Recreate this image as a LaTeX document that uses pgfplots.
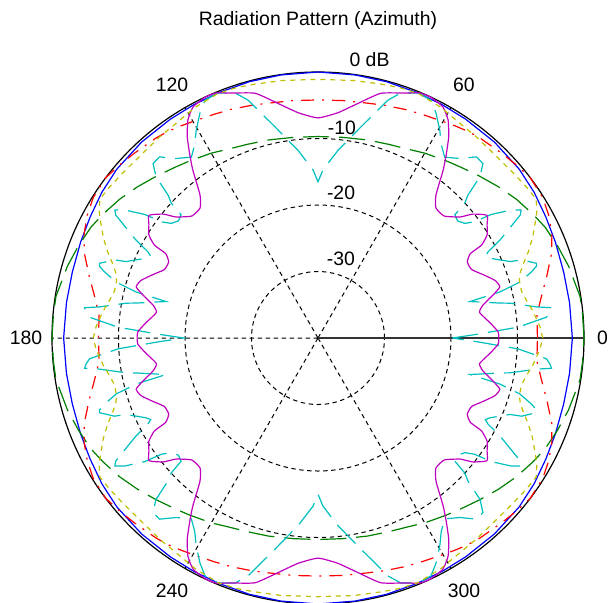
\documentclass[border=0pt]{standalone}
\usepackage{pgfplots}
\usepackage{pgfplotstable}
\pgfplotsset{compat=1.18}
\usepgfplotslibrary{polar}
\usepackage{fontspec}
\setmainfont{Liberation Sans}

\definecolor{mblue}{rgb}{0,0,1}
\definecolor{mgreen}{rgb}{0,0.5,0}
\definecolor{mred}{rgb}{1,0,0}
\definecolor{mcyan}{rgb}{0,0.75,0.75}
\definecolor{mmag}{rgb}{0.75,0,0.75}
\definecolor{myel}{rgb}{0.75,0.75,0}

% azimuth (deg)  gain (dB)
\pgfplotstableread{
a d
0 -1.75
8 -1.8
15 -1.75
22 -1.5
28 -1.2
34 -0.8
40 -0.5
48 -0.35
56 -0.3
62 -0.25
68 -0.2
75 -0.1
82 -0.05
90 0
98 -0.05
105 -0.1
112 -0.2
118 -0.25
124 -0.3
132 -0.35
140 -0.5
146 -0.8
152 -1.2
158 -1.5
165 -1.75
172 -1.8
180 -1.75
188 -1.8
195 -1.75
202 -1.5
208 -1.2
214 -0.8
220 -0.5
228 -0.35
236 -0.3
242 -0.25
248 -0.2
255 -0.1
262 -0.05
270 0
278 -0.05
285 -0.1
292 -0.2
298 -0.25
304 -0.3
312 -0.35
320 -0.5
326 -0.8
332 -1.2
338 -1.5
345 -1.75
352 -1.8
360 -1.75
}\tblue

\pgfplotstableread{
a d
0 0
5 -0.05
9 -0.1
16 -0.8
21 -1.4
26 -2.0
30 -2.7
35 -3.6
40 -4.6
45 -5.6
50 -6.5
54 -7.1
60 -7.9
65 -8.6
70 -9.0
76 -9.3
83 -9.6
90 -9.7
97 -9.6
104 -9.3
110 -9.0
115 -8.6
120 -7.9
126 -7.1
130 -6.5
135 -5.6
140 -4.6
145 -3.6
150 -2.7
154 -2.0
159 -1.4
164 -0.8
171 -0.1
175 -0.05
180 0
185 -0.05
189 -0.1
196 -0.8
201 -1.4
206 -2.0
210 -2.7
215 -3.6
220 -4.6
225 -5.6
230 -6.5
234 -7.1
240 -7.9
245 -8.6
250 -9.0
256 -9.3
263 -9.6
270 -9.7
277 -9.6
284 -9.3
290 -9.0
295 -8.6
300 -7.9
306 -7.1
310 -6.5
315 -5.6
320 -4.6
325 -3.6
330 -2.7
334 -2.0
339 -1.4
344 -0.8
351 -0.1
355 -0.05
360 0
}\tgreen

\pgfplotstableread{
a d
0 -7.0
6 -6.9
11 -5.7
15 -4.4
20 -2.6
24 -1.5
28 -0.7
32 -0.15
37 0
41 -0.4
45 -0.8
51 -1.3
54 -1.6
57 -2.0
60 -2.4
65 -2.9
69 -3.2
74 -3.6
78 -3.9
84 -4.1
90 -4.2
96 -4.1
102 -3.9
106 -3.6
111 -3.2
115 -2.9
120 -2.4
123 -2.0
126 -1.6
129 -1.3
135 -0.8
139 -0.4
143 0
148 -0.15
152 -0.7
156 -1.5
160 -2.6
165 -4.4
169 -5.7
174 -6.9
180 -7.0
186 -6.9
191 -5.7
195 -4.4
200 -2.6
204 -1.5
208 -0.7
212 -0.15
217 0
221 -0.4
225 -0.8
231 -1.3
234 -1.6
237 -2.0
240 -2.4
245 -2.9
249 -3.2
254 -3.6
258 -3.9
264 -4.1
270 -4.2
276 -4.1
282 -3.9
286 -3.6
291 -3.2
295 -2.9
300 -2.4
303 -2.0
306 -1.6
309 -1.3
315 -0.8
319 -0.4
323 0
328 -0.15
332 -0.7
336 -1.5
340 -2.6
345 -4.4
349 -5.7
354 -6.9
360 -7.0
}\tred

\pgfplotstableread{
a d
0 -6.2
3 -6.6
7 -7.4
10 -8.1
13 -8.6
16 -8.5
18 -8.0
20 -7.1
22.3 -5.8
25 -4.4
28 -3.0
30 -2.0
32.5 -1.1
36 -1.3
40 -1.55
47 -1.7
52 -1.5
56.5 -1.3
62 -0.7
67.8 -0.25
72 -0.4
76 -0.66
82 -0.9
90 -1.1
98 -0.9
104 -0.66
108 -0.4
112.2 -0.25
118 -0.7
123.5 -1.3
128 -1.5
133 -1.7
140 -1.55
144 -1.3
147.5 -1.1
150 -2.0
152 -3.0
155 -4.4
157.7 -5.8
160 -7.1
162 -8.0
164 -8.5
167 -8.6
170 -8.1
173 -7.4
177 -6.6
180 -6.2
183 -6.6
187 -7.4
190 -8.1
193 -8.6
196 -8.5
198 -8.0
200 -7.1
202.3 -5.8
205 -4.4
208 -3.0
210 -2.0
212.5 -1.1
216 -1.3
220 -1.55
227 -1.7
232 -1.5
236.5 -1.3
242 -0.7
247.8 -0.25
252 -0.4
256 -0.66
262 -0.9
270 -1.1
278 -0.9
284 -0.66
288 -0.4
292.2 -0.25
298 -0.7
303.5 -1.3
308 -1.5
313 -1.7
320 -1.55
324 -1.3
327.5 -1.1
330 -2.0
332 -3.0
335 -4.4
337.7 -5.8
340 -7.1
342 -8.0
344 -8.5
347 -8.6
350 -8.1
353 -7.4
357 -6.6
360 -6.2
}\tyel

\pgfplotstableread{
a d
0 -12.8
2 -12.9
5 -14.0
9 -15.4
11.3 -14.7
13.8 -12.9
15.7 -11.6
18 -12.0
21 -13.4
24 -14.7
27 -14.8
29 -13.8
29.6 -11.7
31.4 -10.2
33.8 -9.4
36 -8.6
38.7 -10.2
40.4 -11.9
44 -13.6
47.8 -13.6
50.5 -12.1
53.3 -8.5
55 -6.4
57 -3.9
59.2 -1.8
61.6 -0.5
65 0
67.5 -0.1
70.4 -0.9
75.6 -2.0
80.3 -4.2
85 -6.0
90 -6.9
95 -6.0
99.7 -4.2
104.4 -2.0
109.6 -0.9
112.5 -0.1
115 0
118.4 -0.5
120.8 -1.8
123 -3.9
125 -6.4
126.7 -8.5
129.5 -12.1
132.2 -13.6
136 -13.6
139.6 -11.9
141.3 -10.2
144 -8.6
146.2 -9.4
148.6 -10.2
150.4 -11.7
151 -13.8
153 -14.8
156 -14.7
159 -13.4
162 -12.0
164.3 -11.6
166.2 -12.9
168.7 -14.7
171 -15.4
175 -14.0
178 -12.9
180 -12.8
182 -12.9
185 -14.0
189 -15.4
191.3 -14.7
193.8 -12.9
195.7 -11.6
198 -12.0
201 -13.4
204 -14.7
207 -14.8
209 -13.8
209.6 -11.7
211.4 -10.2
213.8 -9.4
216 -8.6
218.7 -10.2
220.4 -11.9
224 -13.6
227.8 -13.6
230.5 -12.1
233.3 -8.5
235 -6.4
237 -3.9
239.2 -1.8
241.6 -0.5
245 0
247.5 -0.1
250.4 -0.9
255.6 -2.0
260.3 -4.2
265 -6.0
270 -6.9
275 -6.0
279.7 -4.2
284.4 -2.0
289.6 -0.9
292.5 -0.1
295 0
298.4 -0.5
300.8 -1.8
303 -3.9
305 -6.4
306.7 -8.5
309.5 -12.1
312.2 -13.6
316 -13.6
319.6 -11.9
321.3 -10.2
324 -8.6
326.2 -9.4
328.6 -10.2
330.4 -11.7
331 -13.8
333 -14.8
336 -14.7
339 -13.4
342 -12.0
344.3 -11.6
346.2 -12.9
348.7 -14.7
351 -15.4
355 -14.0
358 -12.9
360 -12.8
}\tmag

\pgfplotstableread{
a d
0 -19.8
1.4 -15.9
3.1 -9.9
5.2 -5.5
6.4 -4.9
7.4 -4.6
8.1 -6.8
10.3 -10.7
10.9 -12.2
12.7 -15.3
13.5 -16.5
14.2 -11.8
15.5 -8.5
17.2 -6.4
18.2 -5.4
18.9 -5.3
21 -7.2
21.7 -8.9
23.2 -10.2
24.9 -11.5
26 -12.0
26.9 -11.3
28.3 -8.9
31.3 -4.4
32.2 -3.9
33.5 -5.1
35.5 -8.0
36.6 -10.7
38 -12.0
40 -12.6
42 -12.3
42.6 -10.0
43.6 -8.9
44.9 -5.6
46.6 -3.9
48.8 -3.8
51.7 -5.6
55 -6.8
57.5 -5.5
59.6 -3.8
62.3 -1.8
64.6 -0.4
67.8 -0.2
71.3 -1.1
73.6 -2.7
75.6 -4.9
78.5 -7.6
80.7 -9.4
83.9 -11.6
88.3 -14.7
90 -16.5
91.7 -14.7
96.1 -11.6
99.3 -9.4
101.5 -7.6
104.4 -4.9
106.4 -2.7
108.7 -1.1
112.2 -0.2
115.4 -0.4
117.7 -1.8
120.4 -3.8
122.5 -5.5
125 -6.8
128.3 -5.6
131.2 -3.8
133.4 -3.9
135.1 -5.6
136.4 -8.9
137.4 -10.0
138 -12.3
140 -12.6
142 -12.0
143.4 -10.7
144.5 -8.0
146.5 -5.1
147.8 -3.9
148.7 -4.4
151.7 -8.9
153.1 -11.3
154 -12.0
155.1 -11.5
156.8 -10.2
158.3 -8.9
159 -7.2
161.1 -5.3
161.8 -5.4
162.8 -6.4
164.5 -8.5
165.8 -11.8
166.5 -16.5
167.3 -15.3
169.1 -12.2
169.7 -10.7
171.9 -6.8
172.6 -4.6
173.6 -4.9
174.8 -5.5
176.9 -9.9
178.6 -15.9
180 -19.8
181.4 -15.9
183.1 -9.9
185.2 -5.5
186.4 -4.9
187.4 -4.6
188.1 -6.8
190.3 -10.7
190.9 -12.2
192.7 -15.3
193.5 -16.5
194.2 -11.8
195.5 -8.5
197.2 -6.4
198.2 -5.4
198.9 -5.3
201 -7.2
201.7 -8.9
203.2 -10.2
204.9 -11.5
206 -12.0
206.9 -11.3
208.3 -8.9
211.3 -4.4
212.2 -3.9
213.5 -5.1
215.5 -8.0
216.6 -10.7
218 -12.0
220 -12.6
222 -12.3
222.6 -10.0
223.6 -8.9
224.9 -5.6
226.6 -3.9
228.8 -3.8
231.7 -5.6
235 -6.8
237.5 -5.5
239.6 -3.8
242.3 -1.8
244.6 -0.4
247.8 -0.2
251.3 -1.1
253.6 -2.7
255.6 -4.9
258.5 -7.6
260.7 -9.4
263.9 -11.6
268.3 -14.7
270 -16.5
271.7 -14.7
276.1 -11.6
279.3 -9.4
281.5 -7.6
284.4 -4.9
286.4 -2.7
288.7 -1.1
292.2 -0.2
295.4 -0.4
297.7 -1.8
300.4 -3.8
302.5 -5.5
305 -6.8
308.3 -5.6
311.2 -3.8
313.4 -3.9
315.1 -5.6
316.4 -8.9
317.4 -10.0
318 -12.3
320 -12.6
322 -12.0
323.4 -10.7
324.5 -8.0
326.5 -5.1
327.8 -3.9
328.7 -4.4
331.7 -8.9
333.1 -11.3
334 -12.0
335.1 -11.5
336.8 -10.2
338.3 -8.9
339 -7.2
341.1 -5.3
341.8 -5.4
342.8 -6.4
344.5 -8.5
345.8 -11.8
346.5 -16.5
347.3 -15.3
349.1 -12.2
349.7 -10.7
351.9 -6.8
352.6 -4.6
353.6 -4.9
354.8 -5.5
356.9 -9.9
358.6 -15.9
360 -19.8
}\tcyan

\begin{document}
\begin{tikzpicture}[font=\fontsize{9.7}{11.6}\selectfont]
\begin{polaraxis}[
  width=266pt, height=266pt, scale only axis,
  ymin=0, ymax=40,
  xtick={0,60,120,180,240,300},
  ytick={10,20,30},
  xticklabels={}, yticklabels={},
  major tick length=0pt,
  xmajorgrids, ymajorgrids,
  major grid style={black, line width=0.5pt, dash pattern=on 2.2pt off 1.8pt},
  axis line style={black, line width=0.6pt},
  clip=false,
  every axis plot/.append style={line width=0.6pt},
]
% radius = dB + 40
\addplot[black!80, no markers] coordinates {(0,0) (0,40)};
\addplot[mblue, no markers] table[x=a, y expr=\thisrow{d}+40] {\tblue};
\addplot[mgreen, no markers, dash pattern=on 13pt off 5pt] table[x=a, y expr=\thisrow{d}+40] {\tgreen};
\addplot[mred, no markers, dash pattern=on 6.5pt off 4pt on 1pt off 4pt] table[x=a, y expr=\thisrow{d}+40] {\tred};
\addplot[mcyan, no markers, dash pattern=on 13pt off 5pt] table[x=a, y expr=\thisrow{d}+40] {\tcyan};
\addplot[mmag, no markers, smooth, tension=0.3] table[x=a, y expr=\thisrow{d}+40] {\tmag};
\addplot[myel, no markers, dash pattern=on 2.5pt off 2.5pt] table[x=a, y expr=\thisrow{d}+40] {\tyel};

\coordinate (O) at (axis cs:0,0);
\node at (axis cs:0,42.8) {0};
\node at (axis cs:60,43.9) {60};
\node at (axis cs:120,43.9) {120};
\node at (axis cs:180,43.9) {180};
\node at (axis cs:240,43.9) {240};
\node at (axis cs:300,43.9) {300};
\node at (axis cs:79.5,42.52) {0 dB};
\node at (axis cs:83.5,31.8) {-10};
\node at (axis cs:81,22.15) {-20};
\node at (axis cs:73.8,12.37) {-30};
\end{polaraxis}
\node at ([yshift=159pt]O) {Radiation Pattern (Azimuth)};
\pgfresetboundingbox
\path[use as bounding box] ([shift={(-159pt,-132pt)}]O) rectangle ([shift={(145.5pt,169pt)}]O);
\end{tikzpicture}
\end{document}
